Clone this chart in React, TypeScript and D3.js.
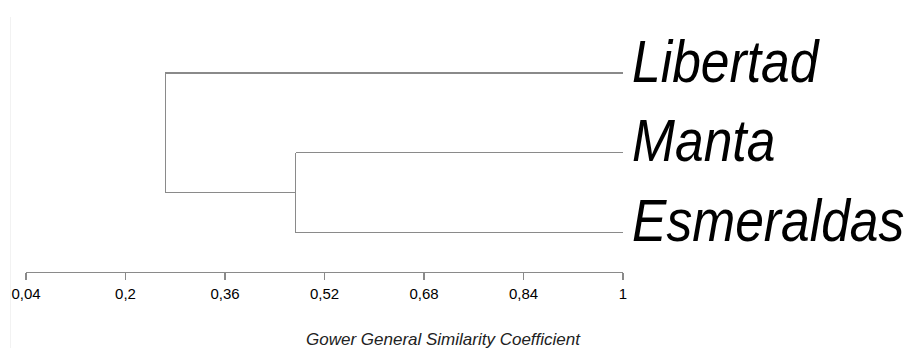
import React from "react";
import * as d3 from "d3";

const leaves = ["Libertad", "Manta", "Esmeraldas"];
// merges: [childA, childB, similarity]
const mergeA = ["Manta", "Libertad"];
const mergeB = ["Esmeraldas", "C1"];
const mergeNames = ["C1", "C2"];
const mergeSim = [0.474, 0.264];
const tickValues = [0.04, 0.2, 0.36, 0.52, 0.68, 0.84, 1];
const axisTitle = "Gower General Similarity Coefficient";

const W = 907;
const H = 348;

export default function App() {
  const x = d3.scaleLinear().domain([0.04, 1]).range([26, 623]);
  const y = d3.scalePoint<string>().domain(leaves).range([73, 232.5]);

  const nodes: Record<string, { x: number; y: number }> = {};
  leaves.forEach((l) => (nodes[l] = { x: x(1), y: y(l)! }));
  const segs: { x1: number; y1: number; x2: number; y2: number }[] = [];
  mergeNames.forEach((name, i) => {
    const a = nodes[mergeA[i]];
    const b = nodes[mergeB[i]];
    const mx = x(mergeSim[i]);
    segs.push({ x1: mx, y1: a.y, x2: a.x, y2: a.y });
    segs.push({ x1: mx, y1: b.y, x2: b.x, y2: b.y });
    segs.push({ x1: mx, y1: a.y, x2: mx, y2: b.y });
    nodes[name] = { x: mx, y: (a.y + b.y) / 2 };
  });

  const axisY = 272.5;
  const lineColor = "#8a8a8a";
  const sx = 0.86;

  return (
    <svg
      width={W}
      height={H}
      style={{ position: "absolute", left: 0, top: 0, background: "#fff" }}
      fontFamily="'Liberation Sans', Arial, sans-serif"
    >
      <rect x={0} y={0} width={W} height={H} fill="#fff" />
      <line x1={10.5} y1={17} x2={10.5} y2={H} stroke="#f2f2f2" strokeWidth={1} />
      {segs.map((s, i) => (
        <line
          key={i}
          x1={s.x1}
          y1={s.y1}
          x2={s.x2}
          y2={s.y2}
          stroke={lineColor}
          strokeWidth={1.2}
          shapeRendering="crispEdges"
        />
      ))}
      {leaves.map((l) => (
        <text
          key={l}
          transform={`translate(${x(1) + 9},${y(l)! + 8.5}) scale(${sx},1)`}
          fontSize={60}
          fontStyle="italic"
          fill="#000"
        >
          {l}
        </text>
      ))}
      <line
        x1={x(0.04)}
        x2={x(1)}
        y1={axisY}
        y2={axisY}
        stroke={lineColor}
        strokeWidth={1.2}
        shapeRendering="crispEdges"
      />
      {tickValues.map((t) => (
        <g key={t}>
          <line
            x1={x(t)}
            x2={x(t)}
            y1={axisY}
            y2={axisY + 7}
            stroke={lineColor}
            strokeWidth={1.2}
            shapeRendering="crispEdges"
          />
          <text
            x={x(t)}
            y={299}
            fontSize={15}
            textAnchor="middle"
            fill="#000"
          >
            {String(t).replace(".", ",")}
          </text>
        </g>
      ))}
      <text
        x={443}
        y={345}
        fontSize={17}
        fontStyle="italic"
        textAnchor="middle"
        fill="#222"
      >
        {axisTitle}
      </text>
    </svg>
  );
}
